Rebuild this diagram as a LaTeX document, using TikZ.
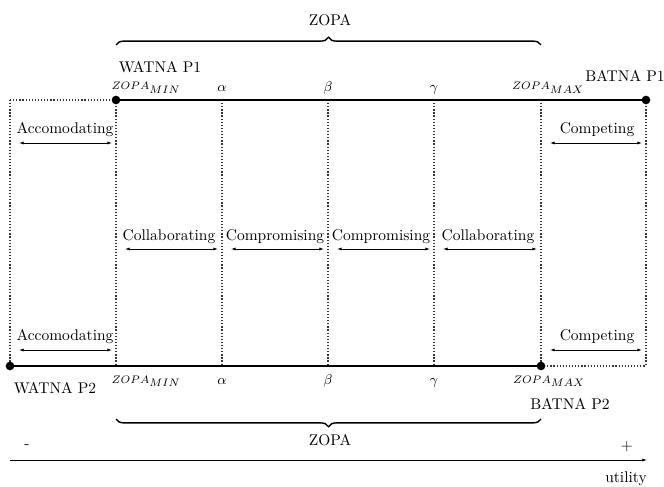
\documentclass[tikz,border=0pt]{standalone}
\usetikzlibrary{decorations.pathreplacing,arrows.meta}
\begin{document}
\begin{tikzpicture}[x=0.645pt,y=-0.645pt,
  mainline/.style={line width=1.8pt},
  dotline/.style={line width=0.8pt, dash pattern=on 0.8pt off 1.2pt, draw=black!80},
  endpt/.style={circle,fill=black,inner sep=0pt,minimum size=5.6pt},
  spanarrow/.style={{Latex[length=3pt,width=2pt]}-{Latex[length=3pt,width=2pt]}, line width=0.5pt},
  lbl/.style={inner sep=1pt},
  zlbl/.style={font=\scriptsize, inner sep=0pt, anchor=base},
  glbl/.style={font=\small, inner sep=0pt, anchor=base},
  brc/.style={decorate, decoration={brace, amplitude=5pt}, line width=0.9pt}]
\useasboundingbox (0,0) rectangle (664,487);
% grid coordinates
\coordinate (t0) at (10,100);
\coordinate (t1) at (116,100);
\coordinate (tA) at (222,100);
\coordinate (tB) at (328,100);
\coordinate (tG) at (434,100);
\coordinate (tM) at (541,100);
\coordinate (t6) at (646,100);
\coordinate (b0) at (10,366);
\coordinate (b1) at (116,366);
\coordinate (bA) at (222,366);
\coordinate (bB) at (328,366);
\coordinate (bG) at (434,366);
\coordinate (bM) at (541,366);
\coordinate (b6) at (646,366);
% dotted lines
\draw[dotline] (t0) -- (t1);
\draw[dotline] (t0) -- (b0);
\draw[dotline] (t1) -- (b1);
\draw[dotline] (tA) -- (bA);
\draw[dotline] (tB) -- (bB);
\draw[dotline] (tG) -- (bG);
\draw[dotline] (tM) -- (bM);
\draw[dotline] (t6) -- (b6);
\draw[dotline] (bM) -- (b6);
% main lines
\draw[mainline] (t1) -- (t6);
\draw[mainline] (b0) -- (bM);
\node[endpt] (p1a) at (t1) {};
\node[endpt] (p1b) at (t6) {};
\node[endpt] (p2a) at (b0) {};
\node[endpt] (p2b) at (bM) {};
% top labels
\node[zlbl] (zmin1) at (146,90) {$ZOPA_{\textstyle MIN}$};
\node[glbl] (al1) at (222,92) {$\alpha$};
\node[glbl] (be1) at (328,92) {$\beta$};
\node[glbl] (ga1) at (434,92) {$\gamma$};
\node[zlbl] (zmax1) at (548,90) {$ZOPA_{\textstyle MAX}$};
\node[lbl] (w1) at (160,67) {WATNA P1};
\node[lbl] (bt1) at (625,76) {BATNA P1};
% bottom labels
\node[zlbl] (zmin2) at (146,383) {$ZOPA_{\textstyle MIN}$};
\node[glbl] (al2) at (222,384) {$\alpha$};
\node[glbl] (be2) at (328,384) {$\beta$};
\node[glbl] (ga2) at (434,384) {$\gamma$};
\node[zlbl] (zmax2) at (549,383) {$ZOPA_{\textstyle MAX}$};
\node[lbl] (w2) at (55,388) {WATNA P2};
\node[lbl] (bt2) at (570,404) {BATNA P2};
% braces
\coordinate (br1l) at (116,45);
\coordinate (br1r) at (541,45);
\draw[brc] (br1l) -- (br1r);
\node[lbl] (z1) at (330,20) {ZOPA};
\coordinate (br2l) at (116,419);
\coordinate (br2r) at (541,419);
\draw[brc] (br2r) -- (br2l);
\node[lbl] (z2) at (330,440) {ZOPA};
% strategy labels and arrows
\node[lbl] (acc1) at (65,130) {Accomodating};
\coordinate (acc1l) at (19,143); \coordinate (acc1r) at (112,143);
\draw[spanarrow] (acc1l) -- (acc1r);
\node[lbl] (com1) at (597,130) {Competing};
\coordinate (com1l) at (550,143); \coordinate (com1r) at (642,143);
\draw[spanarrow] (com1l) -- (com1r);
\node[lbl] (c1) at (169,237) {Collaborating};
\node[lbl] (c2) at (275,237) {Compromising};
\node[lbl] (c3) at (381,237) {Compromising};
\node[lbl] (c4) at (488,237) {Collaborating};
\coordinate (m1l) at (125,249); \coordinate (m1r) at (218,249);
\coordinate (m2l) at (231,249); \coordinate (m2r) at (324,249);
\coordinate (m3l) at (337,249); \coordinate (m3r) at (430,249);
\coordinate (m4l) at (443,249); \coordinate (m4r) at (537,249);
\draw[spanarrow] (m1l) -- (m1r);
\draw[spanarrow] (m2l) -- (m2r);
\draw[spanarrow] (m3l) -- (m3r);
\draw[spanarrow] (m4l) -- (m4r);
\node[lbl] (acc2) at (65,337) {Accomodating};
\coordinate (acc2l) at (19,350); \coordinate (acc2r) at (112,350);
\draw[spanarrow] (acc2l) -- (acc2r);
\node[lbl] (com2) at (597,337) {Competing};
\coordinate (com2l) at (550,350); \coordinate (com2r) at (642,350);
\draw[spanarrow] (com2l) -- (com2r);
% utility axis
\coordinate (ax0) at (10,460);
\coordinate (ax1) at (647,460);
\draw[-{Latex[length=3pt,width=2pt]}, line width=0.5pt] (ax0) -- (ax1);
\node[lbl] (minus) at (27,447) {-};
\node[lbl] (plus) at (627,447) {+};
\node[lbl] (util) at (626,479) {utility};
\end{tikzpicture}
\end{document}
